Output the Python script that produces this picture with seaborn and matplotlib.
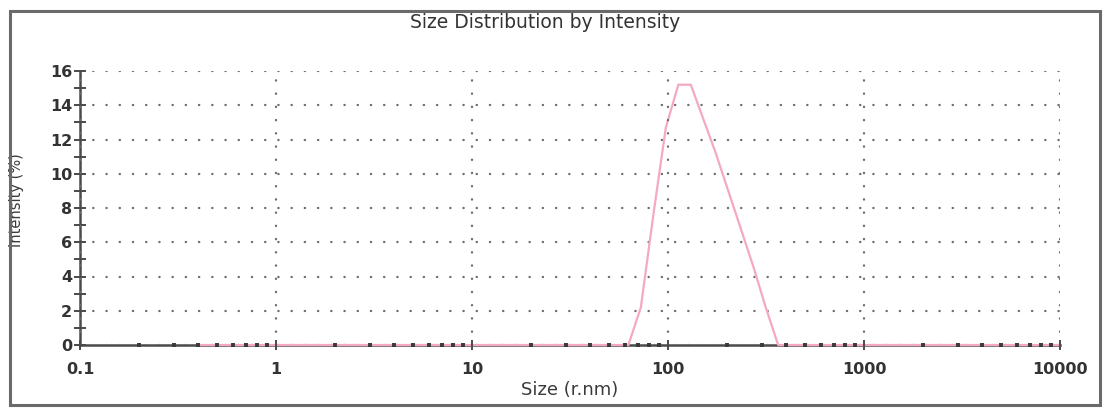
import matplotlib
matplotlib.use("Agg")
import matplotlib.pyplot as plt
from matplotlib.patches import Rectangle
from matplotlib.ticker import LogLocator, FixedLocator, NullFormatter, FixedFormatter
import seaborn as sns
import pandas as pd

# Intensity-weighted size distribution (hydrodynamic radius, nm)
size_nm = [0.4, 54.2, 62.8, 72.7, 84.2, 97.5, 112.9, 130.7, 151.4, 175.3,
           203.0, 235.1, 272.2, 315.2, 365.0, 422.7, 10000]
intensity_pct = [0.0, 0.0, 0.0, 2.2, 7.6, 12.7, 15.2, 15.2, 13.2, 11.2,
                 9.0, 6.8, 4.6, 2.2, 0.0, 0.0, 0.0]

x_ticks = [0.1, 1, 10, 100, 1000, 10000]
x_tick_labels = ["0.1", "1", "10", "100", "1000", "10000"]
y_ticks = [0, 2, 4, 6, 8, 10, 12, 14, 16]

sns.set_style("white")
plt.rcParams["font.family"] = ["DejaVu Sans"]

df = pd.DataFrame({"size": size_nm, "intensity": intensity_pct})

fig = plt.figure(figsize=(11.05, 4.08), dpi=100)
ax = fig.add_axes([80 / 1105, 1 - 345 / 408, 980 / 1105, 274 / 408])

sns.lineplot(data=df, x="size", y="intensity", ax=ax, color="#f4a9c2",
             linewidth=1.6, zorder=3, clip_on=False)

ax.set_xscale("log")
ax.set_xlim(0.1, 10000)
ax.set_ylim(0, 16)

ax.xaxis.set_major_locator(FixedLocator(x_ticks))
ax.xaxis.set_major_formatter(FixedFormatter(x_tick_labels))
ax.xaxis.set_minor_locator(LogLocator(base=10, subs=range(2, 10), numticks=20))
ax.xaxis.set_minor_formatter(NullFormatter())
ax.yaxis.set_major_locator(FixedLocator(y_ticks))
ax.yaxis.set_minor_locator(FixedLocator([1, 3, 5, 7, 9, 11, 13, 15]))

dot_style = dict(color="#6e6e6e", linestyle=(0, (0.1, 5.5)), linewidth=1.7,
                 dash_capstyle="round")
ax.grid(True, which="major", axis="both", **dot_style)
ax.set_axisbelow(False)
ax.xaxis.set_zorder(4)

for side in ("top", "right"):
    ax.spines[side].set_visible(False)
for side in ("left", "bottom"):
    ax.spines[side].set_color("#4a4a4a")
    ax.spines[side].set_linewidth(1.8)

ax.tick_params(which="both", bottom=True, left=True, top=False, right=False)
ax.tick_params(axis="y", which="major", direction="inout", length=9, width=1.4,
               color="#4a4a4a", labelsize=11.5, labelcolor="#333333", pad=1)
ax.tick_params(axis="y", which="minor", direction="inout", length=8, width=1.4,
               color="#4a4a4a")
ax.tick_params(axis="x", which="major", direction="inout", length=7, width=1.4,
               color="#4a4a4a", labelsize=11.5, labelcolor="#333333", pad=9)
ax.tick_params(axis="x", which="minor", direction="inout", length=3.5, width=2.8,
               color="#3a3a3a")
for lbl in ax.get_xticklabels() + ax.get_yticklabels():
    lbl.set_fontweight("bold")

ax.set_xlabel("Size (r.nm)", fontsize=13, color="#3a3a3a")
ax.set_ylabel("Intensity (%)", fontsize=10.5, color="#3a3a3a")
ax.yaxis.set_label_coords(-56 / 980, 0.53)
ax.xaxis.set_label_coords(0.50, -0.13)

fig.text(545 / 1105, 1 - 23 / 408, "Size Distribution by Intensity",
         ha="center", va="center", fontsize=13.5, color="#333333")

fig.patches.append(Rectangle((10 / 1105, 3 / 408), 1090 / 1105, 394 / 408,
                             transform=fig.transFigure, fill=False,
                             edgecolor="#6a6a6a", linewidth=2.2))

fig.savefig("out.png", dpi=100)
